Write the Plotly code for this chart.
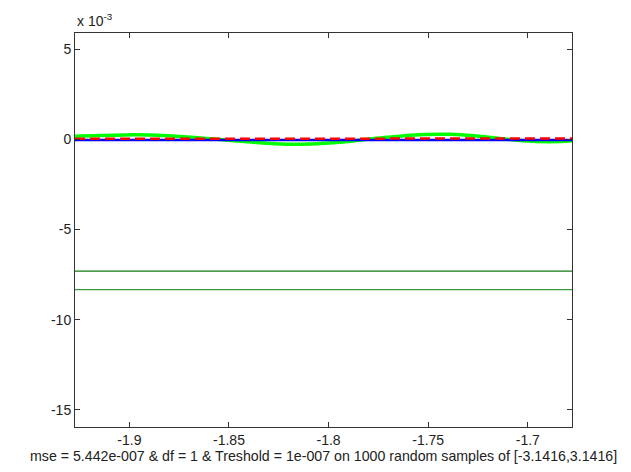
import plotly.graph_objects as go

# x samples (data units) and curves (units of 1e-3)
x_pts = [-1.9273, -1.9145, -1.902, -1.889, -1.877, -1.864, -1.852, -1.839, -1.827,
         -1.814, -1.802, -1.789, -1.777, -1.764, -1.752, -1.739, -1.727, -1.714,
         -1.702, -1.689, -1.6778]
green_fit = [0.17, 0.22, 0.25, 0.24, 0.18, 0.08, -0.04, -0.15, -0.24, -0.27, -0.22,
             -0.10, 0.05, 0.18, 0.27, 0.28, 0.20, 0.05, -0.08, -0.13, -0.08]
blue_true = [-0.04, -0.04, -0.04, -0.04, -0.04, -0.04, -0.04, -0.04, -0.04, -0.04, -0.04,
             -0.04, -0.04, -0.04, -0.04, -0.04, -0.04, -0.04, -0.04, -0.04, -0.04]
red_est = [0.03, 0.03, 0.03, 0.03, 0.03, 0.03, 0.03, 0.03, 0.03, 0.03, 0.03,
           0.03, 0.03, 0.03, 0.03, 0.03, 0.04, 0.04, 0.05, 0.05, 0.05]
x_range = [-1.9273, -1.6778]
hline_1 = -7.31
hline_2 = -8.33
y_range = [-15.95, 5.9]
y_ticks = [-15, -10, -5, 0, 5]
x_ticks = [-1.9, -1.85, -1.8, -1.75, -1.7]
x_tick_text = ["-1.9", "-1.85", "-1.8", "-1.75", "-1.7"]
xlabel = "mse = 5.442e-007 & df = 1 & Treshold = 1e-007 on 1000 random samples of [-3.1416,3.1416]"

fig = go.Figure()
fig.add_trace(go.Scatter(x=x_range, y=[hline_1, hline_1], mode="lines",
                         line=dict(color="#127a12", width=1.2)))
fig.add_trace(go.Scatter(x=x_range, y=[hline_2, hline_2], mode="lines",
                         line=dict(color="#3f983f", width=1.2)))
fig.add_trace(go.Scatter(x=x_pts, y=green_fit, mode="lines", line_shape="spline",
                         line=dict(color="#00ff00", width=3.5)))
fig.add_trace(go.Scatter(x=x_pts, y=blue_true, mode="lines",
                         line=dict(color="#0000ff", width=2.5)))
fig.add_trace(go.Scatter(x=x_pts, y=red_est, mode="lines",
                         line=dict(color="#ff0000", width=2.5, dash="10px,5px")))

axis_common = dict(showline=True, linecolor="#333333", linewidth=1, mirror="allticks",
                   ticks="inside", ticklen=5, tickcolor="#333333", showgrid=False,
                   zeroline=False, tickfont=dict(family="Liberation Sans, Arial", size=14, color="#222222"))
fig.update_xaxes(range=x_range, tickvals=x_ticks, ticktext=x_tick_text, **axis_common)
fig.update_yaxes(range=y_range, tickvals=y_ticks, ticktext=[str(v) for v in y_ticks], **axis_common)

fig.update_layout(
    width=631, height=472,
    margin=dict(l=67, r=67, t=25, b=53),
    paper_bgcolor="white", plot_bgcolor="white",
    showlegend=False,
    font=dict(family="Liberation Sans, Arial", size=14, color="#222222"),
    annotations=[
        dict(text="x 10<sup>-3</sup>", xref="paper", yref="paper", x=0, y=1, xanchor="left",
             yanchor="bottom", yshift=2, showarrow=False, font=dict(size=14)),
        dict(text=xlabel, xref="paper", yref="paper", x=0.5, y=0, xanchor="center",
             yanchor="top", yshift=-19, showarrow=False, font=dict(size=14.2)),
    ],
)
fig.write_html("out.html")
